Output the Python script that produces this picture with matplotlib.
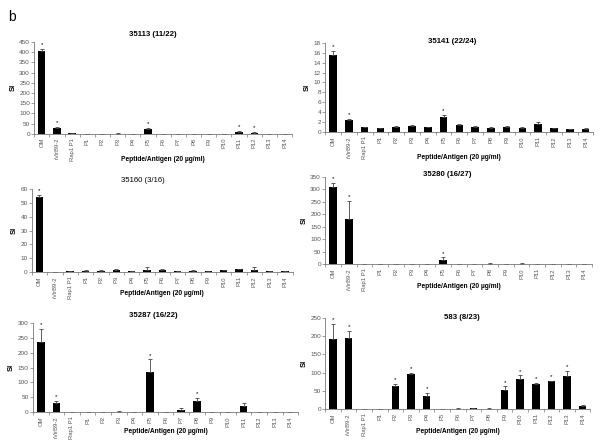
import numpy as np
import matplotlib.pyplot as plt

plt.rcParams['font.family'] = ['Liberation Sans', 'DejaVu Sans']

categories = ['OM', 'rVirB9-2', 'Rap1 P1', 'P1', 'P2', 'P3', 'P4', 'P5', 'P6', 'P7',
              'P8', 'P9', 'P10', 'P11', 'P12', 'P13', 'P14']

titles = ['35113 (11/22)', '35141 (22/24)', '35160 (3/16)',
          '35280 (16/27)', '35287 (16/22)', '583 (8/23)']

si_35113 = [405, 27, 2, 0, 0, 1, 0, 25, 0, 0, 0, 0, 0, 10, 5, 0, 0]
err_35113 = [10, 5, 0.5, 0, 0, 0.5, 0, 3, 0, 0, 0, 0, 0, 3, 2, 0, 0]
star_35113 = ['OM', 'rVirB9-2', 'P5', 'P11', 'P12']

si_35141 = [15.5, 2.4, 1.0, 0.8, 1.1, 1.3, 1.0, 3.0, 1.4, 1.1, 0.9, 1.1, 0.9, 1.6, 0.8, 0.6, 0.7]
err_35141 = [0.9, 0.3, 0.05, 0.05, 0.05, 0.1, 0.05, 0.5, 0.2, 0.1, 0.05, 0.1, 0.1, 0.5, 0.05, 0.05, 0.1]
star_35141 = ['OM', 'rVirB9-2', 'P5']

si_35160 = [54, 0, 0.7, 1.0, 1.0, 1.2, 0.6, 1.5, 1.2, 0.6, 0.9, 0.8, 1.3, 2.0, 1.8, 0.7, 0.5]
err_35160 = [2, 0, 0.2, 0.3, 0.3, 1.0, 0.2, 2.5, 0.8, 0.2, 0.3, 0.2, 0.4, 0.4, 1.5, 0.2, 0.2]
star_35160 = ['OM']

si_35280 = [308, 182, 0, 0, 0, 0, 0, 17, 1, 0, 2, 1, 2, 0, 0, 1, 0]
err_35280 = [18, 72, 0, 0, 0, 0, 0, 10, 0.5, 0, 1, 0.5, 1, 0, 0, 0.5, 0]
star_35280 = ['OM', 'rVirB9-2', 'P5']

si_35287 = [237, 30, 1, 1, 1, 2, 1, 135, 1, 7, 38, 1, 0, 20, 1, 0, 1]
err_35287 = [43, 8, 0.5, 0.5, 0.5, 1, 0.5, 42, 0.5, 6, 10, 0.5, 0, 12, 0.5, 0, 0.5]
star_35287 = ['OM', 'rVirB9-2', 'P5', 'P8']

si_583 = [192, 194, 0, 0, 63, 95, 36, 0, 1, 2, 1, 52, 82, 68, 76, 91, 8]
err_583 = [42, 20, 0, 0, 7, 5, 7, 0, 0.5, 1, 0.5, 10, 10, 3, 2, 13, 2]
star_583 = ['OM', 'rVirB9-2', 'P2', 'P3', 'P4', 'P9', 'P10', 'P11', 'P12', 'P13']

# (values, errors, starred, ymax, ystep, axes rect, bold title,
#  title offset px (x, y), xlabel offset px)
panels = [
    (si_35113, err_35113, star_35113, 450, 50, [0.057, 0.700, 0.430, 0.206], True, (-10, 7), 22),
    (si_35141, err_35141, star_35141, 18, 2, [0.542, 0.704, 0.447, 0.200], True, (-7, 1), 22),
    (si_35160, err_35160, star_35160, 60, 10, [0.053, 0.390, 0.435, 0.186], False, (-19, 9), 18),
    (si_35280, err_35280, star_35280, 350, 50, [0.542, 0.408, 0.445, 0.195], True, (-11, 3), 19),
    (si_35287, err_35287, star_35287, 300, 50, [0.055, 0.076, 0.442, 0.200], True, (-12, 7), 16),
    (si_583, err_583, star_583, 250, 50, [0.542, 0.083, 0.442, 0.204], True, (4, 0), 19),
]

fig = plt.figure(figsize=(6, 4.46), dpi=100)
fig.text(0.013, 0.978, 'b', fontsize=10, va='top', ha='left')

x = np.arange(len(categories))
grey = '#777777'

for (vals, errs, stars, ymax, ystep, pos, bold_title, t_off, xl_off), title in zip(panels, titles):
    ax = fig.add_axes(pos)
    ax.bar(x, vals, width=0.48, color='black')
    ax.errorbar(x, vals, yerr=[np.zeros(len(vals)), errs], fmt='none',
                ecolor='#444444', elinewidth=0.6, capsize=1.5, capthick=0.6)
    for i, c in enumerate(categories):
        if c in stars:
            ax.text(i, vals[i] + errs[i] + ymax * 0.02, '*', ha='center', va='bottom',
                    fontsize=4.5)
    ax.set_xlim(-0.5, len(categories) - 0.5)
    ax.set_ylim(0, ymax)
    ax.set_yticks(np.arange(0, ymax + ystep / 2, ystep))
    ax.set_xticks(x)
    ax.set_xticklabels(categories, rotation=90, fontsize=4.2, color='#555555')
    ax.set_xticks(np.arange(-0.5, len(categories), 1), minor=True)
    ax.tick_params(axis='x', which='major', length=0, pad=3)
    ax.tick_params(axis='x', which='minor', length=2, width=0.5, color=grey)
    ax.tick_params(axis='y', labelsize=4.6, labelcolor='#555555', length=2,
                   width=0.5, color=grey, pad=1)
    for s in ['top', 'right']:
        ax.spines[s].set_visible(False)
    for s in ['left', 'bottom']:
        ax.spines[s].set_color(grey)
        ax.spines[s].set_linewidth(0.6)
    ax.set_ylabel('SI', fontsize=5.5, fontweight='bold', labelpad=2)
    ax_h_px = pos[3] * 446
    ax.set_xlabel('Peptide/Antigen (20 µg/ml)', fontsize=4.8, fontweight='bold')
    ax.xaxis.set_label_coords(0.5, -xl_off / ax_h_px)
    ax.annotate(title, xy=(0.5, 1), xycoords='axes fraction',
                xytext=(t_off[0] * 0.72, t_off[1] * 0.72), textcoords='offset points',
                ha='center', va='center', fontsize=5.6,
                fontweight='bold' if bold_title else 'normal')

plt.savefig('out.png', dpi=100)
